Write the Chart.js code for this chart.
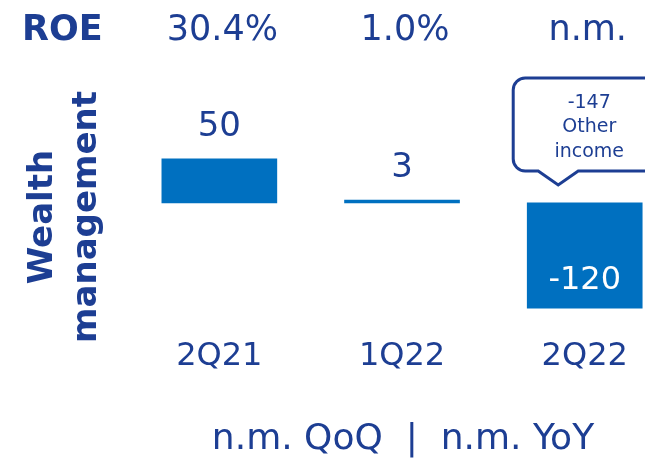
<!DOCTYPE html>
<html>
<head>
<meta charset="utf-8">
<script src="https://cdn.jsdelivr.net/npm/chart.js@4"></script>
<style>
  html, body { margin: 0; padding: 0; background: #ffffff; }
  canvas { display: block; }
</style>
</head>
<body>
<canvas id="wm" width="645" height="466"></canvas>
<script>
// Wealth management result by quarter
const categories = ['2Q21', '1Q22', '2Q22'];
const values = [50, 3, -120];
const roeLabels = ['30.4%', '1.0%', 'n.m.'];
const roeTitle = 'ROE';
const segmentTitle = ['Wealth', 'management'];
const calloutLines = ['-147', 'Other', 'income'];
const footerText = 'n.m. QoQ  |  n.m. YoY';

const NAVY = '#1d3e93';
const BLUE = '#0070c0';
const FONT = '"DejaVu Sans", sans-serif';

const decorations = {
  id: 'decorations',
  afterDatasetsDraw(chart) {
    const ctx = chart.ctx;
    const xs = chart.scales.x;
    const bars = chart.getDatasetMeta(0).data;
    ctx.save();
    ctx.textAlign = 'center';
    ctx.textBaseline = 'middle';

    // ROE row
    ctx.fillStyle = NAVY;
    ctx.font = '700 35px ' + FONT;
    ctx.textAlign = 'left';
    ctx.fillText(roeTitle, 22, 31);
    ctx.textAlign = 'center';
    ctx.font = '400 35px ' + FONT;
    roeLabels.forEach((t, i) => {
      ctx.fillText(t, xs.getPixelForValue(i) + 3, 31);
    });

    // value labels
    bars.forEach((bar, i) => {
      const v = values[i];
      if (v >= 0) {
        ctx.font = '400 34px ' + FONT;
        ctx.fillStyle = NAVY;
        ctx.fillText(String(v), bar.x, bar.y - 32);
      } else {
        ctx.font = '400 32px ' + FONT;
        ctx.fillStyle = '#ffffff';
        ctx.fillText(String(v), bar.x, bar.y - 28);
      }
    });

    // callout above the negative bar
    const nb = bars[2];
    const left = nb.x - 71.5, right = nb.x + 80, top = 78, bottom = 171, r = 12;
    const tipX = nb.x - 26.5, tipY = 185, halfBase = 20;
    ctx.beginPath();
    ctx.moveTo(left + r, top);
    ctx.lineTo(right - r, top);
    ctx.arcTo(right, top, right, top + r, r);
    ctx.lineTo(right, bottom - r);
    ctx.arcTo(right, bottom, right - r, bottom, r);
    ctx.lineTo(tipX + halfBase, bottom);
    ctx.lineTo(tipX, tipY);
    ctx.lineTo(tipX - halfBase, bottom);
    ctx.lineTo(left + r, bottom);
    ctx.arcTo(left, bottom, left, bottom - r, r);
    ctx.lineTo(left, top + r);
    ctx.arcTo(left, top, left + r, top, r);
    ctx.closePath();
    ctx.fillStyle = '#ffffff';
    ctx.fill();
    ctx.lineWidth = 3;
    ctx.strokeStyle = NAVY;
    ctx.stroke();
    ctx.fillStyle = NAVY;
    ctx.font = '400 19px ' + FONT;
    const cx = nb.x + 4.5;
    calloutLines.forEach((t, k) => ctx.fillText(t, cx, 103 + k * 24.5));

    // rotated segment title
    ctx.font = '700 34px ' + FONT;
    ctx.fillStyle = NAVY;
    ctx.save();
    ctx.translate(43, 217);
    ctx.rotate(-Math.PI / 2);
    ctx.fillText(segmentTitle[0], 0, 0);
    ctx.restore();
    ctx.save();
    ctx.translate(87, 217);
    ctx.rotate(-Math.PI / 2);
    ctx.fillText(segmentTitle[1], 0, 0);
    ctx.restore();

    // footer
    ctx.font = '400 36px ' + FONT;
    ctx.fillText(footerText, 403, 440);
    ctx.restore();
  }
};

new Chart(document.getElementById('wm'), {
  type: 'bar',
  data: {
    datasets: [{
      data: values.map((v, i) => ({ x: i, y: v })),
      backgroundColor: BLUE,
      borderWidth: 0,
      barThickness: 115
    }]
  },
  options: {
    responsive: false,
    animation: false,
    devicePixelRatio: 1,
    layout: { padding: { left: 128, right: 0, top: 115, bottom: 87 } },
    plugins: { legend: { display: false }, tooltip: { enabled: false } },
    scales: {
      x: {
        type: 'linear',
        offset: false,
        min: -0.5,
        max: 2.33,
        grid: { display: false, drawTicks: false },
        border: { display: false },
        afterBuildTicks(axis) { axis.ticks = categories.map((_, i) => ({ value: i })); },
        ticks: {
          color: NAVY,
          font: { family: FONT, size: 32 },
          padding: 3,
          maxRotation: 0,
          autoSkip: false,
          callback: (v) => categories[v] ?? ''
        }
      },
      y: {
        display: false,
        min: -150,
        max: 100
      }
    }
  },
  plugins: [decorations]
});
</script>
</body>
</html>
